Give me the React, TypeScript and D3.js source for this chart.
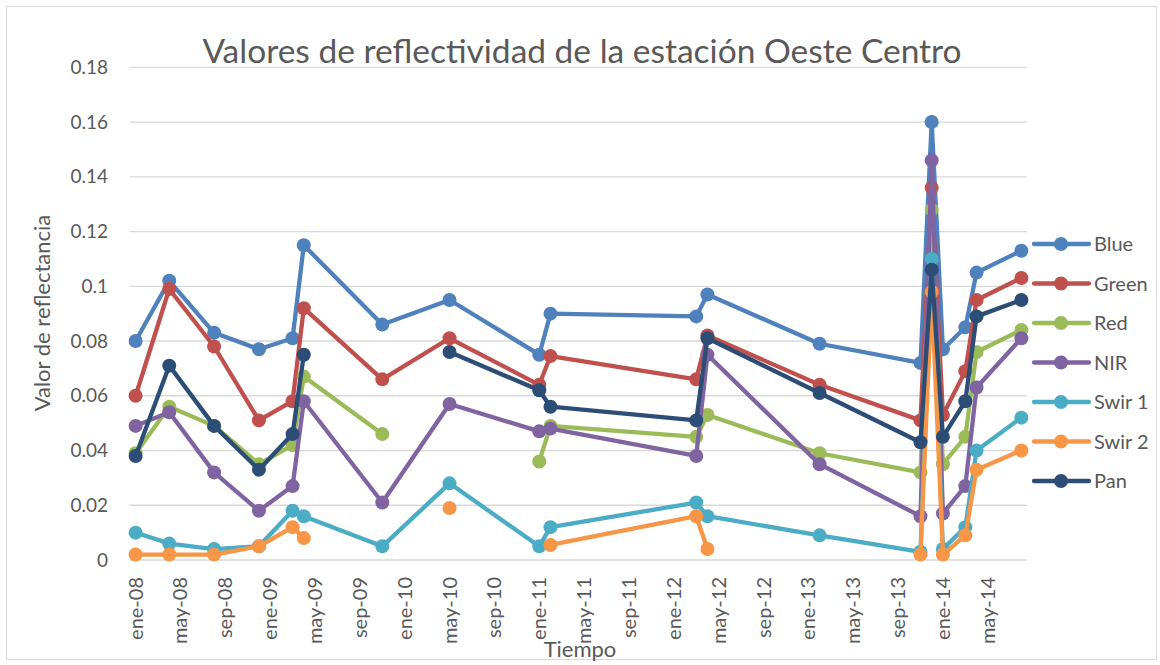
import * as d3 from "d3";

// meses de las observaciones (año-mes)
const dates = [
  "2008-01", "2008-04", "2008-08", "2008-12", "2009-03", "2009-04", "2009-11",
  "2010-05", "2011-01", "2011-02", "2012-03", "2012-04", "2013-02", "2013-11",
  "2013-12", "2014-01", "2014-03", "2014-04", "2014-08",
];

const blue = [0.08, 0.102, 0.083, 0.077, 0.081, 0.115, 0.086, 0.095, 0.075, 0.09, 0.089, 0.097, 0.079, 0.072, 0.16, 0.077, 0.085, 0.105, 0.113];
const green = [0.06, 0.099, 0.078, 0.051, 0.058, 0.092, 0.066, 0.081, 0.064, 0.0745, 0.066, 0.082, 0.064, 0.051, 0.136, 0.053, 0.069, 0.095, 0.103];
const red = [0.039, 0.056, 0.049, 0.035, 0.042, 0.067, 0.046, null, 0.036, 0.049, 0.045, 0.053, 0.039, 0.032, 0.128, 0.035, 0.045, 0.076, 0.084];
const nir = [0.049, 0.054, 0.032, 0.018, 0.027, 0.058, 0.021, 0.057, 0.047, 0.048, 0.038, 0.075, 0.035, 0.016, 0.146, 0.017, 0.027, 0.063, 0.081];
const swir1 = [0.01, 0.006, 0.004, 0.005, 0.018, 0.016, 0.005, 0.028, 0.005, 0.012, 0.021, 0.016, 0.009, 0.003, 0.11, 0.004, 0.012, 0.04, 0.052];
const swir2 = [0.002, 0.002, 0.002, 0.005, 0.012, 0.008, null, 0.019, null, 0.0055, 0.016, 0.004, null, 0.002, 0.098, 0.002, 0.009, 0.033, 0.04];
const pan = [0.038, 0.071, 0.049, 0.033, 0.046, 0.075, null, 0.076, 0.062, 0.056, 0.051, 0.081, 0.061, 0.043, 0.106, 0.045, 0.058, 0.089, 0.095];

const seriesNames = ["Blue", "Green", "Red", "NIR", "Swir 1", "Swir 2", "Pan"];
const seriesValues = [blue, green, red, nir, swir1, swir2, pan];
const seriesColors = ["#4F81BD", "#C0504D", "#9BBB59", "#8064A2", "#4BACC6", "#F79646", "#2C4D75"];

const yTicks = [0, 0.02, 0.04, 0.06, 0.08, 0.1, 0.12, 0.14, 0.16, 0.18];
const monthNames = ["ene", "feb", "mar", "abr", "may", "jun", "jul", "ago", "sep", "oct", "nov", "dic"];

const FONT = "Lato, 'Open Sans', sans-serif";
const TEXT = "#595959";

export default function App() {
  const width = 1160;
  const height = 665;
  const plot = { left: 130, right: 1027, top: 67.3, bottom: 560 };

  // eje de fechas por meses (ene-08 .. ago-14)
  const start = new Date(2008, 0, 1);
  const months = d3.timeMonth.range(start, new Date(2014, 8, 1));
  const monthKey = (d: Date) => d3.timeFormat("%Y-%m")(d);
  const xScale = d3
    .scaleBand()
    .domain(months.map(monthKey))
    .range([plot.left, plot.right]);
  const xPos = (k: string) => (xScale(k) as number) + xScale.bandwidth() / 2;

  const yScale = d3.scaleLinear().domain([0, 0.18]).range([plot.bottom, plot.top]);

  const xTicks = months.filter((_, i) => i % 4 === 0);
  const label = (d: Date) => `${monthNames[d.getMonth()]}-${String(d.getFullYear()).slice(2)}`;

  const line = d3
    .line<number | null>()
    .defined((d) => d !== null)
    .x((_, i) => xPos(dates[i]))
    .y((d) => yScale(d as number));

  const legendY = (i: number) => 244 + i * 39.5;

  return (
    <div style={{ position: "absolute", left: 0, top: 0 }}>
      <svg width={width} height={height} style={{ display: "block", fontFamily: FONT }}>
        <rect x={0} y={0} width={width} height={height} fill="#fff" />
        <rect x={6.5} y={6.5} width={1150} height={653} fill="#fff" stroke="#D9D9D9" strokeWidth={1} />

        {/* título */}
        <text x={582} y={63} textAnchor="middle" fontSize={33.5} fill={TEXT}>
          Valores de reflectividad de la estación Oeste Centro
        </text>

        {/* cuadrícula y eje y */}
        {yTicks.map((t) => (
          <g key={t}>
            <line x1={plot.left} x2={plot.right} y1={yScale(t)} y2={yScale(t)} stroke="#D9D9D9" strokeWidth={1.3} />
            <text x={108} y={yScale(t)} dy="0.35em" textAnchor="end" fontSize={19} fill={TEXT}>
              {t === 0 ? "0" : String(t)}
            </text>
          </g>
        ))}

        {/* etiquetas eje x */}
        {xTicks.map((d) => (
          <text
            key={monthKey(d)}
            transform={`translate(${xPos(monthKey(d))},577) rotate(-90)`}
            dy="0.35em"
            textAnchor="end"
            fontSize={20}
            fill={TEXT}
          >
            {label(d)}
          </text>
        ))}

        <text x={580} y={657} textAnchor="middle" fontSize={22} fill={TEXT}>
          Tiempo
        </text>
        <text transform="translate(42,313) rotate(-90)" dy="0.35em" textAnchor="middle" fontSize={22} fill={TEXT}>
          Valor de reflectancia
        </text>

        {/* series */}
        {seriesValues.map((vals, s) => (
          <g key={seriesNames[s]}>
            <path d={line(vals) || ""} fill="none" stroke={seriesColors[s]} strokeWidth={4.3} strokeLinejoin="round" />
            {vals.map((v, i) =>
              v === null ? null : (
                <circle key={i} cx={xPos(dates[i])} cy={yScale(v)} r={7} fill={seriesColors[s]} />
              )
            )}
          </g>
        ))}

        {/* leyenda */}
        {seriesNames.map((n, i) => (
          <g key={n} transform={`translate(0,${legendY(i)})`}>
            <line x1={1034} x2={1089} y1={0} y2={0} stroke={seriesColors[i]} strokeWidth={4.3} strokeLinecap="round" />
            <circle cx={1061} cy={0} r={7} fill={seriesColors[i]} />
            <text x={1094} y={0} dy="0.35em" fontSize={20} fill={TEXT}>
              {n}
            </text>
          </g>
        ))}
      </svg>
    </div>
  );
}
